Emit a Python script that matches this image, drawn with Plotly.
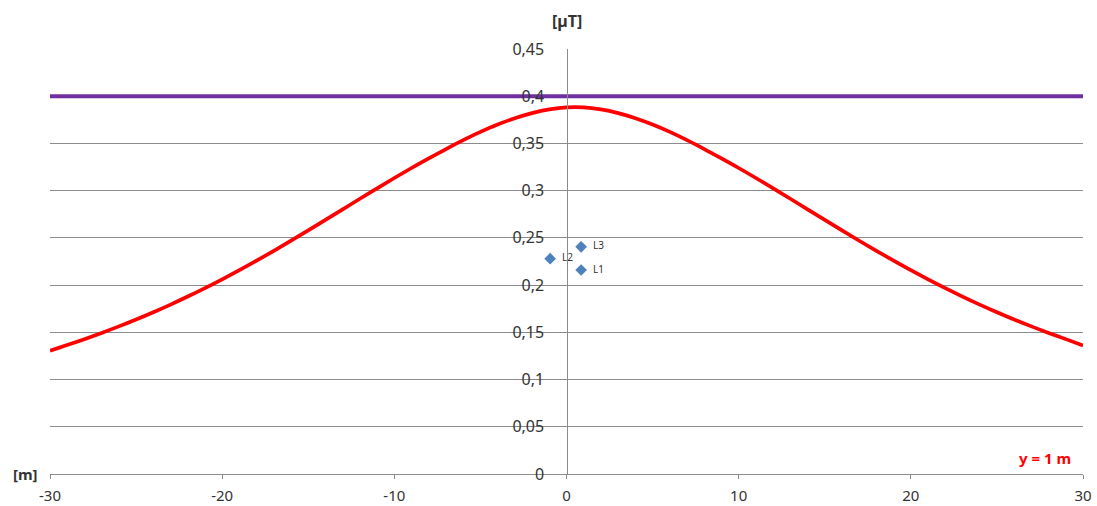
import plotly.graph_objects as go

# Data (magnetic flux density along the profile)
x_curve = list(range(-30, 31))
b_curve = [0.1305, 0.1365, 0.1428, 0.1494, 0.1563, 0.1636, 0.1713, 0.1794, 0.1879, 0.1968,
           0.2061, 0.2158, 0.2259, 0.2363, 0.2470, 0.2579, 0.2690, 0.2802, 0.2914, 0.3025,
           0.3134, 0.3240, 0.3342, 0.3441, 0.3535, 0.3622, 0.3700, 0.3767, 0.3821, 0.3860,
           0.3882,
           0.3882, 0.3860, 0.3821, 0.3767, 0.3700, 0.3622, 0.3535, 0.3441, 0.3342, 0.3240,
           0.3134, 0.3025, 0.2914, 0.2802, 0.2690, 0.2579, 0.2470, 0.2363, 0.2259, 0.2158,
           0.2061, 0.1968, 0.1879, 0.1794, 0.1713, 0.1636, 0.1563, 0.1494, 0.1428, 0.1360]

limit_x = [-30, 30]
limit_y = [0.4, 0.4]

cond_names = ["L1", "L2", "L3"]
cond_x = [0.85, -0.95, 0.85]
cond_y = [0.216, 0.228, 0.2405]

x_ticks = [-30, -20, -10, 0, 10, 20, 30]
x_ticktext = ["-30", "-20", "-10", "0", "10", "20", "30"]
y_ticks = [0, 0.05, 0.1, 0.15, 0.2, 0.25, 0.3, 0.35, 0.4, 0.45]
y_ticktext = ["0", "0,05", "0,1", "0,15", "0,2", "0,25", "0,3", "0,35", "0,4", "0,45"]

FONT = "Noto Sans"
GRID = "#8c8c8c"
TXT = "#333333"

fig = go.Figure()
fig.add_trace(go.Scatter(x=limit_x, y=limit_y, mode="lines",
                         line=dict(color="#7030A0", width=4), hoverinfo="skip"))
fig.add_trace(go.Scatter(x=x_curve, y=b_curve, mode="lines",
                         line=dict(color="#FF0000", width=3.7, shape="spline", smoothing=1.0)))
fig.add_trace(go.Scatter(x=cond_x, y=cond_y, mode="markers+text", text=cond_names,
                         texttemplate="  %{text}",
                         textposition="middle right",
                         textfont=dict(family=FONT, size=10, color=TXT),
                         marker=dict(symbol="diamond", size=9, color="#4F81BD")))

fig.update_layout(
    width=1097, height=506,
    margin=dict(l=50, r=14, t=49, b=32),
    paper_bgcolor="white", plot_bgcolor="white",
    showlegend=False,
    font=dict(family=FONT, size=16, color=TXT),
    xaxis=dict(range=[-30, 30], tickvals=x_ticks, ticktext=x_ticktext,
               showgrid=False, zeroline=False, automargin=False,
               showline=True, linecolor=GRID, linewidth=1.3,
               ticks="outside", ticklen=4, tickcolor=GRID, ticklabelstandoff=4,
               tickfont=dict(family=FONT, size=15, color=TXT)),
    yaxis=dict(range=[0, 0.45], tickvals=y_ticks, ticktext=y_ticktext,
               anchor="free", position=0.5, side="left", automargin=False,
               showgrid=True, gridcolor=GRID, gridwidth=1.3, zeroline=False,
               showline=True, linecolor=GRID, linewidth=1.3,
               ticks="", ticklabelstandoff=19,
               tickfont=dict(family=FONT, size=16, color=TXT)),
    annotations=[
        dict(text="<b>[µT]</b>", xref="paper", yref="paper", x=0.5, y=1.0,
             xanchor="center", yanchor="middle", yshift=28, showarrow=False,
             font=dict(family=FONT, size=16, color=TXT)),
        dict(text="<b>[m]</b>", xref="paper", yref="paper", x=0, y=0,
             xanchor="right", yanchor="middle", xshift=-10, showarrow=False,
             font=dict(family=FONT, size=15, color=TXT)),
        dict(text="<b>y = 1 m</b>", xref="paper", yref="paper", x=0.99, y=0,
             xanchor="right", yanchor="middle", yshift=16, showarrow=False,
             font=dict(family=FONT, size=15, color="#FF0000")),
    ],
)

fig.write_html("out.html", config={"displayModeBar": False},
               post_script="document.body.style.margin='0';")
